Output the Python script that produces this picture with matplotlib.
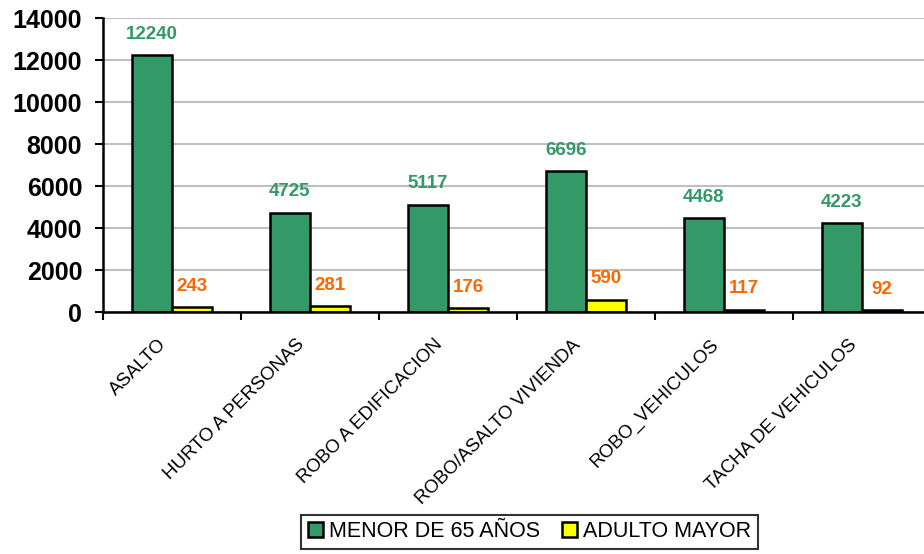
import numpy as np
import matplotlib.pyplot as plt
from matplotlib.transforms import ScaledTranslation

plt.rcParams['font.family'] = ['Liberation Sans', 'DejaVu Sans']

categorias = ['ASALTO', 'HURTO A PERSONAS', 'ROBO A EDIFICACION',
              'ROBO/ASALTO VIVIENDA', 'ROBO_VEHICULOS', 'TACHA DE VEHICULOS']
menor_65 = [12240, 4725, 5117, 6696, 4468, 4223]
adulto_mayor = [243, 281, 176, 590, 117, 92]

verde = '#339966'
amarillo = '#FFFF00'
naranja = '#FF6600'

fig = plt.figure(figsize=(9.24, 5.54), dpi=100)
ax = fig.add_axes([0.1115, 0.4368, 0.896, 0.5307])

x = np.arange(len(categorias))
w = 0.29

b1 = ax.bar(x - w / 2, menor_65, w, color=verde, edgecolor='black',
            linewidth=1.8, label='MENOR DE 65 AÑOS', zorder=3)
b2 = ax.bar(x + w / 2, adulto_mayor, w, color=amarillo, edgecolor='black',
            linewidth=1.8, label='ADULTO MAYOR', zorder=3)

# etiquetas de valor sobre cada barra
for xi, v in zip(x - w / 2, menor_65):
    ax.annotate(str(v), (xi, v), xytext=(0, 15), textcoords='offset points',
                ha='center', va='center', color=verde, fontsize=13.5,
                fontweight='bold')
for xi, v in zip(x + w / 2, adulto_mayor):
    ax.annotate(str(v), (xi, v), xytext=(0, 15), textcoords='offset points',
                ha='center', va='center', color=naranja, fontsize=13.5,
                fontweight='bold')

ax.set_ylim(0, 14000)
ax.set_xlim(-0.5, len(categorias) - 0.5)
ax.set_yticks(np.arange(0, 14001, 2000))
ax.yaxis.grid(True, color='#BFBFBF', linewidth=1.5, zorder=0)
ax.set_axisbelow(True)

ax.tick_params(axis='y', length=6, width=1.5, pad=9, labelsize=18)
for t in ax.get_yticklabels():
    t.set_fontweight('bold')

ax.set_xticks(x)
ax.set_xticklabels(categorias, rotation=45, ha='right',
                   rotation_mode='anchor', fontsize=13.5)
ax.tick_params(axis='x', which='major', length=0, pad=16)
desplaza = ScaledTranslation(-14 / 100, -2 / 100, fig.dpi_scale_trans)
for t in ax.get_xticklabels():
    t.set_transform(t.get_transform() + desplaza)
ax.set_xticks(np.arange(-0.5, len(categorias)), minor=True)
ax.tick_params(axis='x', which='minor', length=6, width=1.5)

for s in ['top', 'right']:
    ax.spines[s].set_visible(False)
for s in ['left', 'bottom']:
    ax.spines[s].set_linewidth(1.8)
    ax.spines[s].set_zorder(4)

leg = fig.legend(handles=[b1, b2], loc='center', ncol=2,
                 bbox_to_anchor=(0.573, 0.04), fontsize=15.5, frameon=True,
                 fancybox=False, edgecolor='black', handlelength=0.7,
                 handleheight=0.7, handletextpad=0.3, columnspacing=1.0,
                 borderpad=0.3)
leg.get_frame().set_linewidth(1.5)

fig.savefig('out.png', dpi=100)
